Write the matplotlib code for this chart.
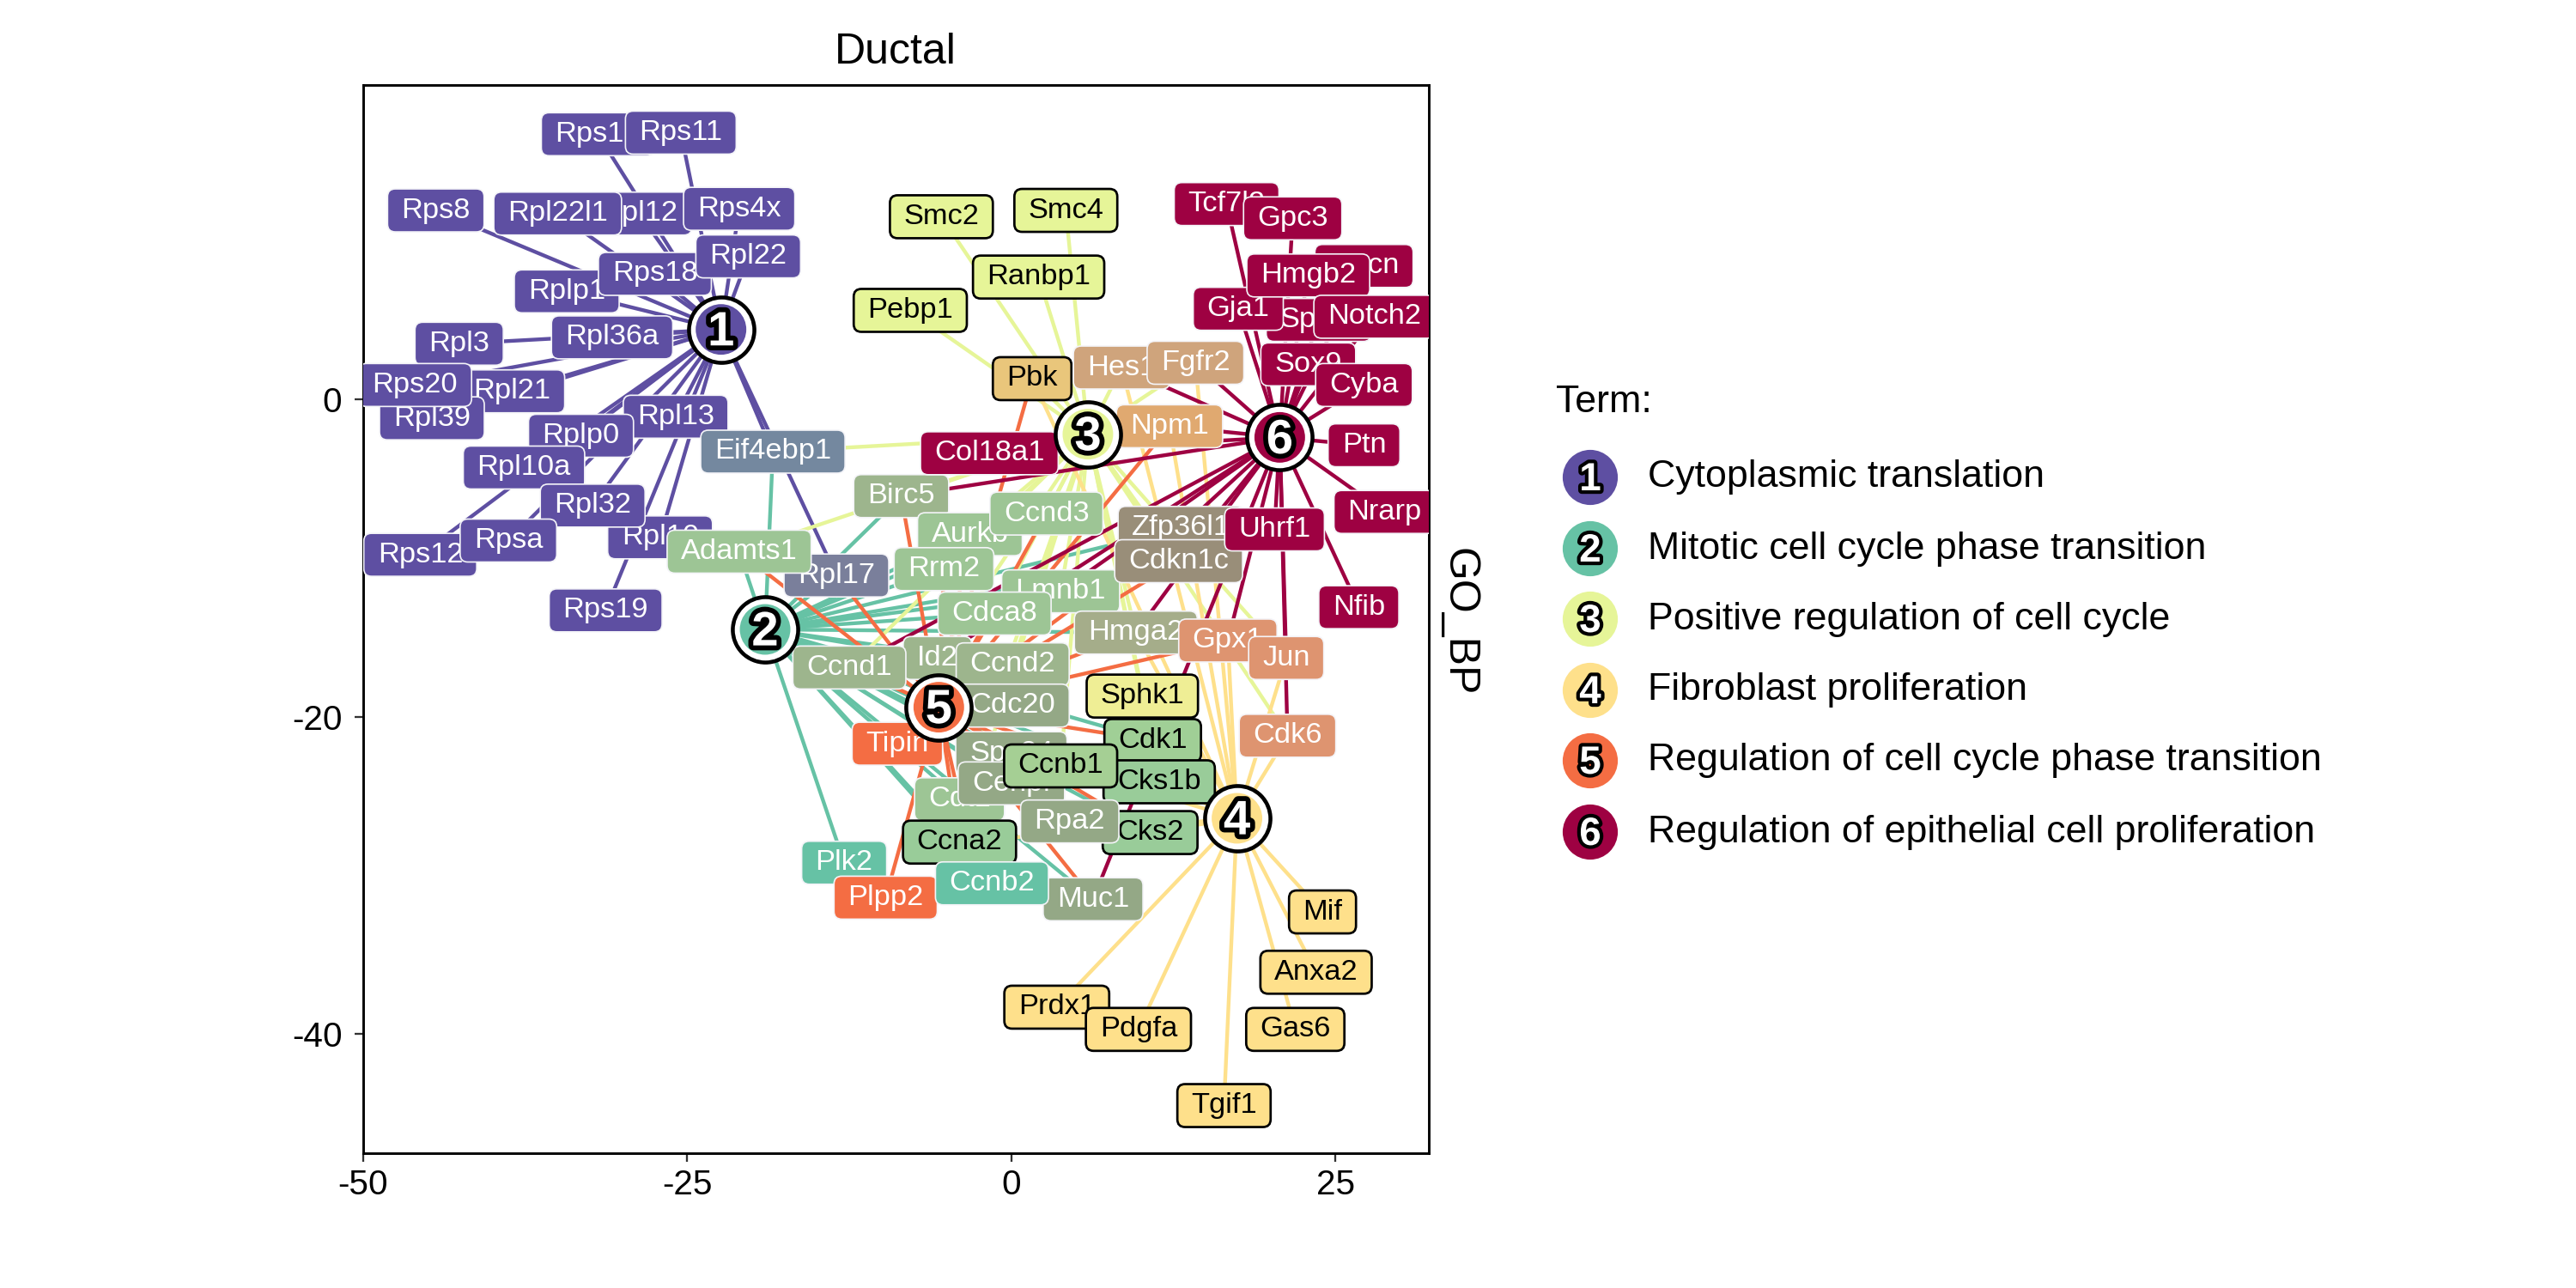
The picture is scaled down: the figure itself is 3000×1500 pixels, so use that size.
import matplotlib
matplotlib.use("Agg")
import matplotlib.pyplot as plt
from matplotlib.patches import FancyBboxPatch
from matplotlib.transforms import IdentityTransform
import matplotlib.patheffects as pe

plt.rcParams['font.family'] = ['Liberation Sans', 'DejaVu Sans']

# ---------------- data ----------------
terms = ["Cytoplasmic translation",
         "Mitotic cell cycle phase transition",
         "Positive regulation of cell cycle",
         "Fibroblast proliferation",
         "Regulation of cell cycle phase transition",
         "Regulation of epithelial cell proliferation"]
term_colors = ["#5E4FA2", "#66C2A5", "#E6F598", "#FEE08B", "#F46D43", "#9E0142"]
term_x = [-22.4, -19.0, 5.9, 17.4, -5.6, 20.7]
term_y = [4.4, -14.5, -2.2, -26.4, -19.4, -2.4]

# genes in drawing order (bottom first)
gene_names = [
    "Rps15", "Rps11", "Rps8", "Rpl12", "Rpl22l1", "Rps4x", "Rplp1", "Rps18", "Rpl22",
    "Rpl36a", "Rpl3", "Rpl21", "Rpl39", "Rps20", "Rpl13", "Rplp0", "Rpl10a", "Rpl10",
    "Rpl32", "Rps12", "Rpsa", "Rps19",
    "Eif4ebp1", "Rpl17", "Adamts1", "Birc5", "Aurkb", "Rrm2", "Ccnd3", "Lmnb1", "Cdca8",
    "Zfp36l1", "Cdkn1c", "Uhrf1", "Id2", "Ccnd1", "Ccnd2", "Cdc20", "Hmga2", "Gpx1", "Jun",
    "Cdk6", "Sphk1", "Cdk1", "Cks1b", "Spc24", "Cdt1", "Cenpf", "Ccnb1", "Cks2", "Rpa2",
    "Ccna2", "Plk2", "Plpp2", "Muc1", "Ccnb2", "Tipin",
    "Smc2", "Smc4", "Ranbp1", "Pebp1", "Pbk", "Hes1", "Fgfr2", "Npm1", "Col18a1",
    "Tcf7l2", "Gpc3", "Mycn", "Sparc", "Gja1", "Hmgb2", "Notch2", "Sox9", "Cyba", "Ptn",
    "Nrarp", "Nfib",
    "Mif", "Anxa2", "Gas6", "Prdx1", "Pdgfa", "Tgif1",
]
gene_x = [
    -31.9, -25.5, -44.4, -28.7, -35.0, -21.0, -34.3, -27.5, -20.3,
    -30.8, -42.6, -38.5, -44.7, -46.0, -25.9, -33.2, -37.6, -27.1,
    -32.3, -45.6, -38.8, -31.3,
    -18.4, -13.5, -21.0, -8.5, -3.2, -5.2, 2.7, 3.8, -1.3,
    13.1, 12.9, 20.3, -5.7, -12.5, 0.1, 0.1, 9.6, 16.7, 21.2,
    21.3, 10.1, 10.9, 11.4, 0.0, -4.0, 0.0, 3.8, 10.7, 4.5,
    -4.0, -12.9, -9.7, 6.3, -1.5, -8.8,
    -5.4, 4.2, 2.1, -7.8, 1.6, 8.5, 14.2, 12.2, -1.7,
    16.6, 21.7, 27.2, 23.7, 17.5, 22.9, 28.0, 22.9, 27.2, 27.2,
    28.8, 26.8,
    24.0, 23.5, 21.9, 3.5, 9.8, 16.4,
]
gene_y = [
    16.7, 16.8, 11.9, 11.7, 11.7, 12.0, 6.8, 7.9, 9.0,
    3.9, 3.5, 0.5, -1.2, 0.9, -1.1, -2.3, -4.3, -8.7,
    -6.7, -9.8, -8.9, -13.3,
    -3.3, -11.1, -9.6, -6.1, -8.5, -10.7, -7.2, -12.1, -13.5,
    -8.1, -10.2, -8.2, -16.3, -16.9, -16.7, -19.3, -14.7, -15.2, -16.3,
    -21.2, -18.7, -21.5, -24.1, -22.3, -25.2, -24.2, -23.1, -27.3, -26.6,
    -27.9, -29.2, -31.4, -31.5, -30.5, -21.7,
    11.5, 11.9, 7.7, 5.6, 1.3, 2.0, 2.3, -1.7, -3.4,
    12.3, 11.4, 8.4, 5.0, 5.7, 7.8, 5.2, 2.2, 0.9, -2.9,
    -7.1, -13.1,
    -32.3, -36.1, -39.7, -38.3, -39.7, -44.5,
]
gene_terms = [
    [1], [1], [1], [1], [1], [1], [1], [1], [1],
    [1], [1], [1], [1], [1], [1], [1], [1], [1],
    [1], [1], [1], [1],
    [1, 2, 3], [1, 2, 5], [2, 3, 5], [2, 3, 5, 6], [2, 3, 5], [2, 3, 5], [2, 3, 5], [2, 3, 6], [2, 3, 5],
    [2, 5, 6], [2, 3, 5, 6], [6], [2, 3, 5, 6], [2, 3, 5, 6], [2, 3, 5], [2, 5], [2, 3, 4, 5, 6], [4, 5, 6], [3, 4, 6],
    [3, 4, 6], [3, 4], [2, 3, 4, 5], [2, 4, 5], [2, 5], [2, 3, 5], [2, 5], [2, 3, 4, 5], [2, 4, 5], [2, 5],
    [2, 3, 4, 5], [2], [5], [2, 5, 6], [2], [5],
    [3], [3], [3], [3], [3, 4, 5], [3, 4, 6], [3, 4, 6], [3, 4, 5, 6], [6],
    [6], [6], [6], [6], [6], [6], [6], [6], [6], [6],
    [6], [6],
    [4], [4], [4], [4], [4], [4],
]

# label fill colours (blends of term colours as rendered)
gene_fill = {
    "Eif4ebp1": "#74889F", "Rpl17": "#7A7F9B", "Adamts1": "#9DC595", "Birc5": "#9DB58D",
    "Aurkb": "#9DC595", "Rrm2": "#9DC595", "Ccnd3": "#9DC595", "Lmnb1": "#9DC595",
    "Cdca8": "#9DC595", "Zfp36l1": "#998E79", "Cdkn1c": "#998E79", "Id2": "#9DB58D",
    "Ccnd1": "#9DB58D", "Ccnd2": "#9DB58D", "Cdc20": "#94A886", "Hmga2": "#A5AD8A",
    "Gpx1": "#DE9470", "Jun": "#DE9470", "Cdk6": "#DE9470", "Sphk1": "#EFEE95",
    "Cdk1": "#A0CF96", "Cks1b": "#99CC99", "Spc24": "#94A886", "Cdt1": "#9DC595",
    "Cenpf": "#94A886", "Ccnb1": "#A5CF94", "Cks2": "#99CC99", "Rpa2": "#94A886",
    "Ccna2": "#99CC99", "Muc1": "#94A886", "Pbk": "#E9C67B", "Hes1": "#CFA47C",
    "Fgfr2": "#CFA47C", "Npm1": "#E0A970",
}
dark_text = {"Smc2", "Smc4", "Ranbp1", "Pebp1", "Pbk", "Sphk1", "Cdk1", "Cks1b", "Cks2",
             "Ccna2", "Ccnb1", "Mif", "Anxa2", "Gas6", "Prdx1", "Pdgfa", "Tgif1"}

# ---------------- figure ----------------
W, H = 3000, 1500
fig = plt.figure(figsize=(20, 10), dpi=150)
ax = fig.add_axes([423 / W, 1 - 1343 / H, (1664 - 423) / W, (1343 - 99) / H])
ax.set_xlim(-50, 32.2)
ax.set_ylim(-47.5, 19.8)
ax.set_autoscale_on(False)

# edges
for t in range(6):
    for gx, gy, gt in zip(gene_x, gene_y, gene_terms):
        if t + 1 in gt:
            ax.plot([term_x[t], gx], [term_y[t], gy], color=term_colors[t], lw=2.1,
                    zorder=1 + 0.01 * t, solid_capstyle='butt')

# labels
texts = []
for i, (name, gx, gy, gt) in enumerate(zip(gene_names, gene_x, gene_y, gene_terms)):
    tc = "black" if name in dark_text else "white"
    txt = ax.text(gx, gy, name, ha='center', va='center', fontsize=16.5, color=tc,
                  zorder=10 + 2 * i + 1, clip_on=True)
    texts.append(txt)

fig.canvas.draw()
r = fig.canvas.get_renderer()
for i, (txt, name, gt) in enumerate(zip(texts, gene_names, gene_terms)):
    bb = txt.get_window_extent(r)
    fc = gene_fill.get(name, term_colors[gt[0] - 1])
    dark = name in dark_text
    p = FancyBboxPatch((bb.x0 - 16, bb.y0 - 9.5), bb.width + 32, bb.height + 19,
                       boxstyle="round,pad=0,rounding_size=9",
                       transform=IdentityTransform(), fc=fc,
                       ec="black" if dark else "#F4F4F8", lw=1.3 if dark else 0.8,
                       zorder=10 + 2 * i)
    ax.add_artist(p)

# term nodes
ax.scatter(term_x, term_y, s=1500, c="black", zorder=300, linewidths=0)
ax.scatter(term_x, term_y, s=1180, c="white", zorder=301, linewidths=0)
ax.scatter(term_x, term_y, s=800, c=term_colors, zorder=302, linewidths=0)
for i in range(6):
    ax.text(term_x[i], term_y[i] - 0.25, str(i + 1), ha='center', va='center', fontsize=27,
            fontweight='bold', color='white', zorder=303,
            path_effects=[pe.Stroke(linewidth=5.5, foreground='black'), pe.Normal()])

# axes styling
ax.set_xticks([-50, -25, 0, 25])
ax.set_xticklabels(["-50", "-25", "0", "25"])
ax.set_yticks([0, -20, -40])
ax.set_yticklabels(["0", "-20", "-40"])
ax.tick_params(axis='both', direction='out', length=4.8, width=1.1, color='#333333',
               labelsize=19.5, labelcolor='black')
ax.tick_params(axis='x', pad=4)
ax.tick_params(axis='y', pad=7)
for s in ax.spines.values():
    s.set_linewidth(1.4)
    s.set_color('black')

fig.text(1043 / W, 1 - 61 / H, "Ductal", ha='center', va='center', fontsize=24)
fig.text(1699 / W, 1 - 724 / H, "GO_BP", ha='center', va='center', fontsize=24, rotation=270)

# legend
lax = fig.add_axes([0, 0, 1, 1])
lax.set_xlim(0, W)
lax.set_ylim(H, 0)
lax.axis('off')
lax.text(1812, 468, "Term:", ha='left', va='center', fontsize=21.5)
rows = [556, 639, 721, 804, 886, 969]
lax.scatter([1852] * 6, rows, s=950, c=term_colors, linewidths=0, zorder=5)
for i, (yy, lab) in enumerate(zip(rows, terms)):
    lax.text(1852, yy + 3, str(i + 1), ha='center', va='center', fontsize=22,
             fontweight='bold', color='white', zorder=6,
             path_effects=[pe.Stroke(linewidth=4, foreground='black'), pe.Normal()])
    lax.text(1919, yy, lab, ha='left', va='center', fontsize=21.5)

fig.savefig("out.png", dpi=150)
